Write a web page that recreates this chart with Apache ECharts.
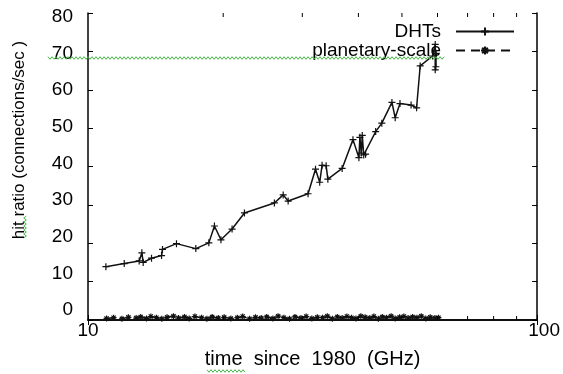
<!DOCTYPE html>
<html>
<head>
<meta charset="utf-8">
<script src="https://cdn.jsdelivr.net/npm/echarts@6/dist/echarts.min.js"></script>
<style>
html,body{margin:0;padding:0;background:#fff;}
#chart{width:563px;height:374px;}
</style>
</head>
<body>
<div id="chart"></div>
<script>
// ---- data ----
var dhtX = [10.96, 12.04, 13.0, 13.18, 13.27, 13.85, 14.58, 14.65, 15.74, 17.38, 18.58, 19.12, 19.77, 20.93, 22.3, 26.0, 27.2, 27.9, 30.9, 32.1, 32.8, 33.2, 33.9, 34.2, 36.8, 38.9, 40.1, 40.3, 40.6, 40.8, 41.1, 41.5, 43.7, 45.1, 47.5, 48.3, 49.5, 52.4, 53.9, 54.9, 58.5, 59.3, 59.3, 59.6, 59.5];
var dhtY = [13.9, 14.7, 15.4, 17.5, 15.0, 16.1, 16.8, 18.4, 19.9, 18.6, 20.1, 24.5, 20.9, 23.7, 27.9, 30.5, 32.6, 31.0, 32.9, 39.3, 35.9, 40.3, 40.2, 36.7, 39.5, 47.0, 42.3, 47.6, 43.5, 48.1, 43.0, 43.2, 49.1, 51.3, 56.7, 52.7, 56.4, 56.0, 55.3, 66.2, 68.8, 71.8, 65.2, 69.5, 66.0];
var planX = [11.0, 11.4, 11.9, 12.3, 12.8, 13.1, 13.5, 13.8, 14.2, 14.6, 15.0, 15.5, 15.9, 16.4, 16.8, 17.3, 17.9, 18.4, 18.9, 19.5, 20.1, 20.8, 21.5, 22.1, 22.9, 23.6, 24.3, 25.0, 25.8, 26.5, 27.3, 28.1, 28.9, 29.8, 30.6, 31.5, 32.4, 33.3, 34.1, 35.0, 35.9, 36.8, 37.7, 38.6, 39.5, 40.5, 41.4, 42.4, 43.3, 44.3, 45.2, 46.2, 47.3, 48.3, 49.4, 50.5, 51.6, 52.8, 54.0, 55.2, 56.5, 57.8, 59.2, 60.3];
var planY = [0.4, 0.6, 0.3, 0.7, 0.5, 0.8, 0.4, 0.9, 0.6, 0.3, 0.7, 1.0, 0.5, 0.8, 0.4, 0.9, 0.6, 0.3, 0.8, 0.5, 0.7, 0.4, 0.6, 0.9, 0.3, 0.7, 0.5, 0.8, 0.4, 1.0, 0.6, 0.3, 0.8, 0.5, 0.9, 0.4, 0.7, 0.6, 1.0, 0.3, 0.8, 0.5, 0.9, 0.6, 0.4, 1.0, 0.7, 0.5, 0.9, 0.3, 0.8, 0.6, 1.0, 0.4, 0.7, 0.9, 0.5, 0.8, 0.6, 1.0, 0.4, 0.7, 0.5, 0.6];
var seriesNames = ['DHTs', 'planetary-scale'];
var yTickLabels = [0, 10, 20, 30, 40, 50, 60, 70, 80];
var xMinorTicks = [20, 30, 40, 50, 60, 70, 80, 90];
var xTitle = 'time  since  1980  (GHz)';
var yTitle = 'hit ratio (connections/sec )';

// ---- chart ----
var FONT = "'Liberation Sans', Arial, sans-serif";
var chart = echarts.init(document.getElementById('chart'), null, {renderer: 'canvas'});

function zip(a, b) { return a.map(function (v, i) { return [v, b[i]]; }); }

function squiggle(x0, y0, len, vertical) {
  var pts = [], step = 2, amp = 1.3, i = 0;
  for (var d = 0; d <= len; d += step, i++) {
    var off = (i % 2 === 0) ? -amp : amp;
    pts.push(vertical ? [x0 + off, y0 - d] : [x0 + d, y0 + off]);
  }
  return { type: 'polyline', silent: true, z: 100, shape: { points: pts }, style: { stroke: '#49b84a', lineWidth: 1, fill: null } };
}

var axisLineStyle = { color: '#000', width: 1.5 };
var tickStyle = { color: '#000', width: 1 };

var plusSymbol = 'path://M5,0L5,10M0,5L10,5';
var starSymbol = 'path://M5,0L5,10M0,5L10,5M1.5,1.5L8.5,8.5M8.5,1.5L1.5,8.5';

var option = {
  animation: false,
  backgroundColor: '#fff',
  textStyle: { fontFamily: FONT },
  grid: { left: 88, right: 25, top: 13, bottom: 49, containLabel: false },
  legend: {
    data: seriesNames,
    orient: 'vertical',
    right: 48,
    top: 22,
    align: 'right',
    padding: 0,
    itemGap: 0,
    itemWidth: 58,
    itemHeight: 10,
    textStyle: { fontSize: 19, lineHeight: 19, color: '#000', fontFamily: FONT, padding: [0, 10, 0, 0] }
  },
  xAxis: [
    {
      type: 'log', logBase: 10, min: 10, max: 100, position: 'bottom',
      axisLine: { show: true, lineStyle: axisLineStyle },
      axisTick: { show: true, inside: true, length: 5, lineStyle: tickStyle },
      splitLine: { show: false },
      axisLabel: {
        margin: 1, color: '#000', fontSize: 19, fontFamily: FONT,
        showMinLabel: true, showMaxLabel: true,
        formatter: function (v) { return v >= 100 ? '{r|' + v + '}' : '{l|' + v + '}'; },
        rich: {
          r: { fontSize: 19, fontFamily: FONT, color: '#000', padding: [0, 0, 0, 14] },
          l: { fontSize: 19, fontFamily: FONT, color: '#000' }
        }
      },
      name: xTitle, nameLocation: 'middle', nameGap: 29,
      nameTextStyle: { fontSize: 20, color: '#000', fontFamily: FONT }
    },
    {
      type: 'log', logBase: 10, min: 10, max: 100, position: 'top',
      axisLine: { show: true, lineStyle: axisLineStyle },
      axisTick: { show: true, inside: true, length: 5, lineStyle: tickStyle },
      splitLine: { show: false },
      axisLabel: { show: false }
    }
  ],
  yAxis: [
    {
      type: 'value', min: 0, max: 80, interval: 10, position: 'left',
      axisLine: { show: true, lineStyle: axisLineStyle },
      axisTick: { show: true, inside: true, length: 5, lineStyle: tickStyle },
      splitLine: { show: false },
      axisLabel: { show: false }
    },
    {
      type: 'value', min: 0, max: 80, interval: 10, position: 'right',
      axisLine: { show: true, lineStyle: axisLineStyle },
      axisTick: { show: true, inside: true, length: 5, lineStyle: tickStyle },
      splitLine: { show: false },
      axisLabel: { show: false }
    },
    {
      type: 'value', min: -2.685, max: 81.07, position: 'left',
      axisLine: { show: false }, axisTick: { show: false }, splitLine: { show: false },
      axisLabel: { customValues: yTickLabels, margin: 15, color: '#000', fontSize: 19, fontFamily: FONT }
    }
  ],
  graphic: [
    {
      type: 'text', silent: true, x: 19, y: 140, rotation: Math.PI / 2,
      style: { text: yTitle, font: '17px ' + FONT, fill: '#000', align: 'center', verticalAlign: 'middle' }
    },
    squiggle(48, 58, 397, false),
    squiggle(25, 238, 22, true),
    squiggle(207, 371, 38, false)
  ],
  series: [
    {
      name: 'DHTs', type: 'line', xAxisIndex: 0, yAxisIndex: 0,
      data: zip(dhtX, dhtY),
      symbol: plusSymbol, symbolSize: 7,
      lineStyle: { color: '#111', width: 1.5, type: 'solid' },
      itemStyle: { color: '#111', borderColor: '#111', borderWidth: 1.2 },
      z: 5
    },
    {
      name: 'planetary-scale', type: 'line', xAxisIndex: 0, yAxisIndex: 0,
      data: zip(planX, planY),
      symbol: starSymbol, symbolSize: 6,
      lineStyle: { color: '#111', width: 1.5, type: [9, 6] },
      itemStyle: { color: '#111', borderColor: '#111', borderWidth: 1.2 },
      z: 5
    },
    {
      name: 'minorTicks', type: 'custom', xAxisIndex: 0, yAxisIndex: 0,
      silent: true, z: 10,
      data: xMinorTicks.map(function (v) { return [v, 0]; }),
      encode: { x: 0, y: 1 },
      renderItem: function (params, api) {
        var v = api.value(0);
        var b = api.coord([v, 0]);
        var t = api.coord([v, 80]);
        return {
          type: 'group',
          children: [
            { type: 'line', shape: { x1: b[0], y1: b[1], x2: b[0], y2: b[1] - 4 }, style: { stroke: '#000', lineWidth: 1 } },
            { type: 'line', shape: { x1: t[0], y1: t[1], x2: t[0], y2: t[1] + 4 }, style: { stroke: '#000', lineWidth: 1 } }
          ]
        };
      }
    }
  ]
};
chart.setOption(option);
</script>
</body>
</html>
